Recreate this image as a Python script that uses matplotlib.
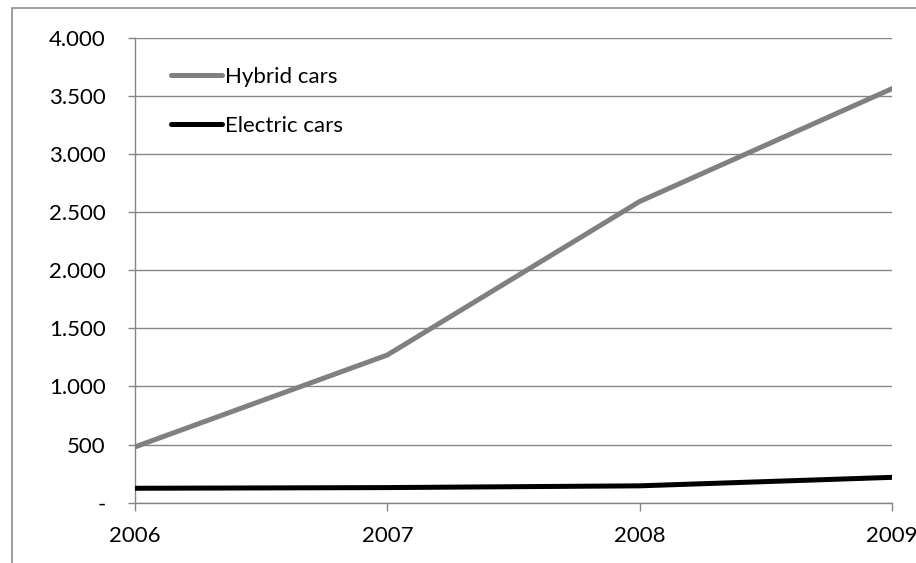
import matplotlib
matplotlib.use("Agg")
import matplotlib.pyplot as plt
from matplotlib.patches import Rectangle

# data
years = ["2006", "2007", "2008", "2009"]
hybrid_cars = [480, 1270, 2590, 3560]
electric_cars = [124, 130, 145, 218]
y_ticks = [0, 500, 1000, 1500, 2000, 2500, 3000, 3500, 4000]
y_tick_labels = ["-", "500", "1.000", "1.500", "2.000", "2.500", "3.000", "3.500", "4.000"]

plt.rcParams['font.family'] = ['Lato', 'DejaVu Sans']

grid_col = "#868686"
fs = 16

fig = plt.figure(figsize=(9.16, 5.63), dpi=100)
# outer chart border (cropped at right and bottom like the reference)
fig.patches.append(Rectangle((12, -20), 1000, 555 + 20, transform=None,
                             fill=False, edgecolor="#8c8c8c", linewidth=1.2))

ax = fig.add_axes([135 / 916, 1 - 502.7 / 563, (892 - 135) / 916, (502.7 - 37.5) / 563])

x = range(len(years))
ax.plot(x, hybrid_cars, color="#808080", linewidth=3.6, label="Hybrid cars",
        solid_capstyle="round", zorder=3)
ax.plot(x, electric_cars, color="black", linewidth=3.6, label="Electric cars",
        solid_capstyle="round", zorder=3)

ax.set_xlim(0, len(years) - 1)
ax.set_ylim(0, 4000)
ax.set_xticks(list(x))
ax.set_xticklabels(years)
ax.set_yticks(y_ticks)
ax.set_yticklabels(y_tick_labels)

ax.grid(axis="y", color=grid_col, linewidth=1.0)
ax.set_axisbelow(True)
for side in ["top", "right"]:
    ax.spines[side].set_visible(False)
for side in ["left", "bottom"]:
    ax.spines[side].set_color(grid_col)
    ax.spines[side].set_linewidth(1.0)

ax.tick_params(axis="y", length=5, color=grid_col, width=1.0, pad=16, labelsize=fs)
ax.tick_params(axis="x", length=6, color=grid_col, width=1.0, pad=11, labelsize=fs)

leg = ax.legend(loc="upper left", bbox_to_anchor=(0.021, 0.98), frameon=False,
                fontsize=fs, handlelength=2.3, handletextpad=0.15, labelspacing=1.3)

plt.savefig("out.png", dpi=100)
plt.close()
